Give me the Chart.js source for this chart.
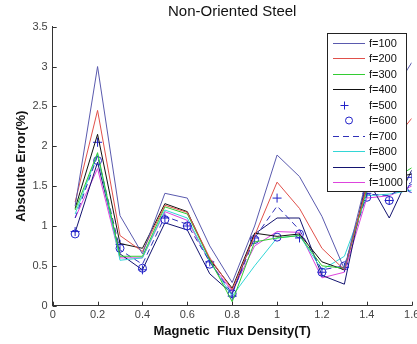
<!DOCTYPE html>
<html>
<head>
<meta charset="utf-8">
<title>Non-Oriented Steel</title>
<script src="https://cdn.jsdelivr.net/npm/chart.js@4"></script>
<style>
    body { margin: 0; background: #fff; }
    #wrap { width: 417px; height: 344px; overflow: hidden; }
</style>
</head>
<body>
<div id="wrap">
    <canvas id="chart" width="430" height="344"></canvas>
</div>
<script>
// flux density points (T)
let fluxDensity = [0.1, 0.2, 0.3, 0.4, 0.5, 0.6, 0.7, 0.8, 0.9, 1.0, 1.1, 1.2, 1.3, 1.4, 1.5, 1.6];

// absolute error (%) for each frequency
let f100 = [1.25, 3.0, 1.13, 0.65, 1.41, 1.35, 0.75, 0.29, 1.0, 1.89, 1.62, 1.12, 0.46, 1.6, 2.6, 3.05];
let f200 = [1.3, 2.45, 0.88, 0.68, 1.26, 1.17, 0.6, 0.2, 0.88, 1.55, 1.22, 0.72, 0.45, 1.5, 2.0, 2.35];
let f300 = [1.2, 1.92, 0.62, 0.62, 1.24, 1.15, 0.58, 0.05, 0.8, 0.85, 0.88, 0.5, 0.47, 1.45, 1.55, 1.73];
let f400 = [1.22, 2.15, 0.78, 0.72, 1.28, 1.18, 0.58, 0.22, 0.91, 0.87, 0.9, 0.55, 0.45, 1.5, 1.6, 1.65];
let f500 = [0.93, 2.05, 0.77, 0.45, 1.1, 1.0, 0.55, 0.12, 0.85, 1.35, 0.85, 0.42, 0.48, 1.41, 1.32, 1.61];
let f600 = [0.9, 1.82, 0.72, 0.47, 1.08, 1.0, 0.52, 0.15, 0.83, 0.86, 0.9, 0.42, 0.5, 1.36, 1.32, 1.47];
let f700 = [1.1, 1.88, 0.7, 0.52, 1.12, 1.02, 0.55, 0.15, 0.85, 1.25, 0.95, 0.45, 0.5, 1.4, 1.38, 1.55];
let f800 = [1.15, 1.9, 0.57, 0.6, 1.2, 1.1, 0.55, 0.12, 0.5, 0.85, 0.88, 0.45, 0.62, 1.38, 1.4, 1.45];
let f900 = [0.92, 1.8, 0.65, 0.45, 1.04, 0.95, 0.4, 0.15, 0.9, 1.1, 1.1, 0.38, 0.27, 1.6, 1.1, 1.7];
let f1000 = [1.1, 1.72, 0.6, 0.6, 1.18, 1.07, 0.55, 0.18, 0.75, 0.93, 0.92, 0.35, 0.42, 1.35, 1.38, 1.5];

// tick labels
let xTicks = [0, 0.2, 0.4, 0.6, 0.8, 1, 1.2, 1.4, 1.6];
let yTicks = [0, 0.5, 1, 1.5, 2, 2.5, 3, 3.5];

let fontFamily = '"Liberation Sans", Arial, sans-serif';

function points(values) {
    return values.map((v, i) => ({ x: fluxDensity[i], y: v }));
}

function lineSeries(label, values, color, dash) {
    return {
        label: label,
        data: points(values),
        borderColor: color,
        backgroundColor: color,
        borderWidth: 1,
        borderDash: dash || [],
        pointRadius: 0,
        showLine: true
    };
}

function markerSeries(label, values, color, style) {
    return {
        label: label,
        data: points(values),
        borderColor: color,
        backgroundColor: 'rgba(0,0,0,0)',
        borderWidth: 1,
        pointStyle: style,
        pointRadius: style === 'cross' ? 4.5 : 4,
        showLine: false
    };
}

let datasets = [
    lineSeries('f=100', f100, '#5a5aae'),
    lineSeries('f=200', f200, '#e0504a'),
    lineSeries('f=300', f300, '#33cc33'),
    lineSeries('f=400', f400, '#111111'),
    markerSeries('f=500', f500, '#2222c8', 'cross'),
    markerSeries('f=600', f600, '#2222c8', 'circle'),
    lineSeries('f=700', f700, '#3030b8', [6, 4]),
    lineSeries('f=800', f800, '#33d6d6'),
    lineSeries('f=900', f900, '#141470'),
    lineSeries('f=1000', f1000, '#dd44dd')
];

// matlab style ticks pointing into the plot + boxed legend
let matlabLook = {
    id: 'matlabLook',
    afterDatasetsDraw(chart) {
        let ctx = chart.ctx;
        let x = chart.scales.x;
        let y = chart.scales.y;
        let area = chart.chartArea;
        ctx.save();
        ctx.strokeStyle = '#333';
        ctx.lineWidth = 1;
        ctx.beginPath();
        for (let t of xTicks) {
            let px = Math.round(x.getPixelForValue(t)) + 0.5;
            ctx.moveTo(px, area.bottom);
            ctx.lineTo(px, area.bottom - 4);
        }
        for (let t of yTicks) {
            let py = Math.round(y.getPixelForValue(t)) + 0.5;
            ctx.moveTo(area.left, py);
            ctx.lineTo(area.left + 4, py);
        }
        ctx.stroke();

        // legend box
        let bx = 327, by = 33, bw = 79, bh = 158;
        ctx.fillStyle = '#fff';
        ctx.fillRect(bx, by, bw, bh);
        ctx.strokeStyle = '#222';
        ctx.strokeRect(bx + 0.5, by + 0.5, bw, bh);
        ctx.font = '11px ' + fontFamily;
        ctx.textBaseline = 'middle';
        chart.data.datasets.forEach((ds, i) => {
            let ry = Math.round(by + 9.5 + i * 15.5) + 0.5;
            ctx.strokeStyle = ds.borderColor;
            ctx.lineWidth = 1;
            if (ds.showLine) {
                ctx.setLineDash(ds.borderDash);
                ctx.beginPath();
                ctx.moveTo(333, ry);
                ctx.lineTo(365, ry);
                ctx.stroke();
                ctx.setLineDash([]);
            } else if (ds.pointStyle === 'cross') {
                ctx.beginPath();
                ctx.moveTo(344.5, ry - 4);
                ctx.lineTo(344.5, ry + 4);
                ctx.moveTo(340.5, ry);
                ctx.lineTo(348.5, ry);
                ctx.stroke();
            } else {
                ctx.beginPath();
                ctx.arc(349, ry, 3.5, 0, Math.PI * 2);
                ctx.stroke();
            }
            ctx.fillStyle = '#111';
            ctx.fillText(ds.label, 369, ry);
        });
        ctx.restore();
    }
};

let ctx = document.getElementById('chart').getContext('2d');
let errorChart = new Chart(ctx, {
    type: 'scatter',
    data: { datasets: datasets },
    plugins: [matlabLook],
    options: {
        responsive: false,
        animation: false,
        layout: { padding: { left: 13, right: 18.3, top: 0, bottom: 0 } },
        plugins: {
            legend: { display: false },
            tooltip: { enabled: false },
            title: {
                display: true,
                text: 'Non-Oriented Steel',
                fullSize: false,
                color: '#111',
                font: { family: fontFamily, size: 15, weight: 'normal', lineHeight: 1.2 },
                padding: { top: 3, bottom: 5.7 }
            }
        },
        scales: {
            x: {
                type: 'linear',
                min: 0,
                max: 1.6,
                afterBuildTicks: scale => { scale.ticks = xTicks.map(v => ({ value: v })); },
                afterFit: scale => { scale.height = 38.3; },
                grid: { display: false, drawTicks: false, tickLength: 0 },
                border: { display: true, color: '#333', width: 1 },
                ticks: {
                    autoSkip: false,
                    maxRotation: 0,
                    padding: 3,
                    color: '#444',
                    font: { family: fontFamily, size: 11 },
                    callback: v => String(Math.round(v * 10) / 10)
                },
                title: {
                    display: true,
                    text: 'Magnetic  Flux Density(T)',
                    color: '#111',
                    font: { family: fontFamily, size: 13, weight: 'bold' },
                    padding: { top: 1, bottom: 5 }
                }
            },
            y: {
                min: 0,
                max: 3.5,
                afterBuildTicks: scale => { scale.ticks = yTicks.map(v => ({ value: v })); },
                afterFit: scale => { scale.width = 39.7; },
                grid: { display: false, drawTicks: false, tickLength: 0 },
                border: { display: true, color: '#333', width: 1 },
                ticks: {
                    padding: 5,
                    color: '#444',
                    font: { family: fontFamily, size: 11 },
                    callback: v => String(v)
                },
                title: {
                    display: true,
                    text: 'Absolute Error(%)',
                    color: '#111',
                    font: { family: fontFamily, size: 13, weight: 'bold' },
                    padding: { top: 1, bottom: 4 }
                }
            }
        }
    }
});
</script>
</body>
</html>
